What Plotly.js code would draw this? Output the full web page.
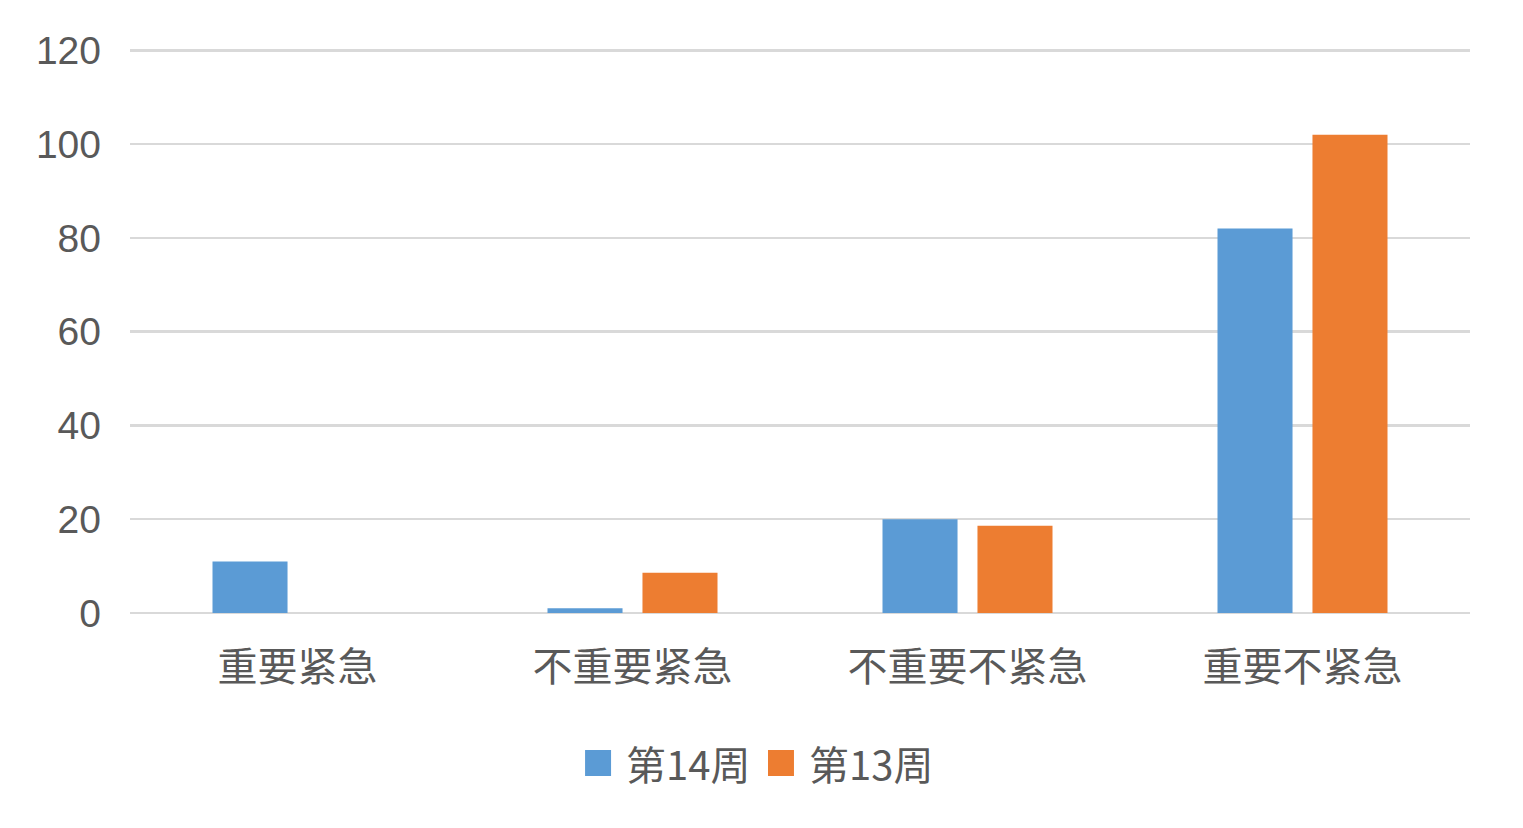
<!DOCTYPE html>
<html>
<head>
<meta charset="utf-8">
<script src="https://cdn.plot.ly/plotly-3.0.1.min.js"></script>
<style>html,body{margin:0;padding:0;background:#fff;}#chart{width:1523px;height:828px;}</style>
</head>
<body>
<div id="chart"></div>
<script>
const categories = ['重要紧急', '不重要紧急', '不重要不紧急', '重要不紧急'];
const week14 = [11, 1, 20, 82];
const week13 = [0, 8.6, 18.6, 102];
const seriesNames = ['第14周', '第13周'];
const seriesColors = ['#5b9bd5', '#ed7d31'];
const yTicks = [0, 20, 40, 60, 80, 100, 120];

const font = '"Noto Sans CJK SC", "Noto Sans", sans-serif';
const traces = [
  {type: 'bar', name: seriesNames[0], x: categories, y: week14, marker: {color: seriesColors[0]}, hoverinfo: 'x+y'},
  {type: 'bar', name: seriesNames[1], x: categories, y: week13, marker: {color: seriesColors[1]}, hoverinfo: 'x+y'}
];

// custom legend (larger swatches than Plotly's built-in legend)
const legendSwatchX = [0.3396, 0.4761];
const swatchW = 0.0194;
const shapes = seriesNames.map(function (n, i) {
  return {type: 'rect', xref: 'paper', yref: 'paper',
    x0: legendSwatchX[i], x1: legendSwatchX[i] + swatchW, y0: -0.2885, y1: -0.2425,
    fillcolor: seriesColors[i], line: {width: 0}};
});
const annotations = seriesNames.map(function (n, i) {
  return {xref: 'paper', yref: 'paper', x: legendSwatchX[i] + swatchW + 0.0095, y: -0.2655,
    xanchor: 'left', yanchor: 'middle', showarrow: false, text: n,
    font: {size: 40, family: font, color: '#595959'}};
});

const layout = {
  width: 1523, height: 828,
  margin: {l: 130, r: 53, t: 48, b: 215},
  paper_bgcolor: '#fff', plot_bgcolor: '#fff',
  barmode: 'group', bargap: 0.433, bargroupgap: 0.21,
  font: {family: font, color: '#595959', size: 40},
  xaxis: {
    type: 'category', showgrid: false, zeroline: false, showline: false,
    ticks: '', tickfont: {size: 40, family: font, color: '#595959'}, ticklabelstandoff: 27
  },
  yaxis: {
    range: [0, 120.5], tickvals: yTicks, ticktext: yTicks.map(String),
    showgrid: true, gridcolor: '#d9d9d9', gridwidth: 2.5,
    zeroline: true, zerolinecolor: '#d9d9d9', zerolinewidth: 2.5,
    showline: false, ticks: '', ticklabelstandoff: 28,
    tickfont: {size: 39, family: '"Liberation Sans", Arial, sans-serif', color: '#595959'}
  },
  showlegend: false,
  shapes: shapes,
  annotations: annotations
};
Plotly.newPlot('chart', traces, layout, {displayModeBar: false, staticPlot: true});
</script>
</body>
</html>
